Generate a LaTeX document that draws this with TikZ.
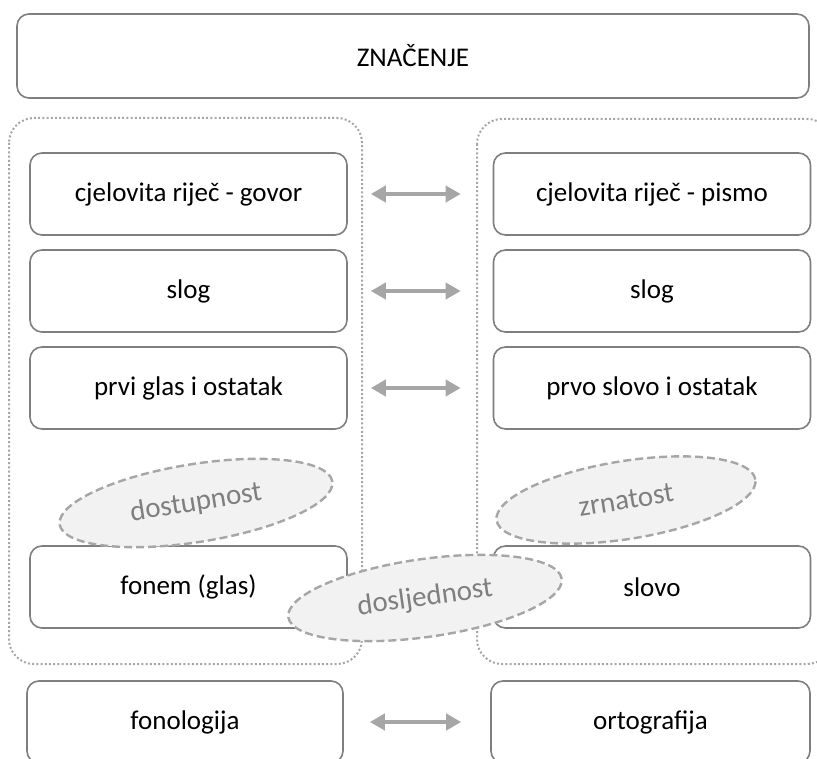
\documentclass[tikz,border=0pt]{standalone}
\usepackage{fontspec}
\setmainfont{Carlito}
\usetikzlibrary{positioning}
\usetikzlibrary{arrows.meta}
\usetikzlibrary{shapes.geometric}
\definecolor{boxgray}{HTML}{7F7F7F}
\definecolor{dotgray}{HTML}{A6A6A6}
\definecolor{ovalfill}{HTML}{F2F2F2}

\begin{document}
\begin{tikzpicture}[x=1pt,y=-1pt,
  razina/.style={draw=boxgray, line width=1.6pt, rounded corners=12pt, minimum width=317pt, minimum height=82pt, inner sep=0pt, font=\fontsize{27}{32}\selectfont},
  okvir/.style={draw=dotgray, line width=2pt, dash pattern=on 2pt off 2.2pt, rounded corners=25pt},
  ovalni/.style={ellipse, draw=dotgray, fill=ovalfill, line width=2.4pt, dash pattern=on 8pt off 4pt, text=boxgray, minimum width=276pt, minimum height=78pt, inner sep=0pt, font=\fontsize{29}{34}\selectfont},
  strelica/.style={draw=dotgray, line width=4.5pt, {Triangle[length=15pt,width=16pt]}-{Triangle[length=15pt,width=16pt]}}
]
\useasboundingbox (0,0) rectangle (817,759);
\clip (0,0) rectangle (817,759);

\node[razina, minimum width=792pt, minimum height=84pt] (znacenje) at (413,56) {ZNAČENJE};

% govor / pismo
\draw[okvir] (9,118) rectangle (362,664);
\draw[okvir] (477,119) rectangle (832,664);

\node[razina] (govor) at (188.5,194) {cjelovita riječ - govor};
\node[razina] (sloggovor) at (188.5,291) {slog};
\node[razina] (glas) at (188.5,388) {prvi glas i ostatak};
\node[razina] (fonem) at (188.5,587) {fonem (glas)};

\node[razina] (pismo) at (652,194) {cjelovita riječ - pismo};
\node[razina] (slogpismo) at (652,291) {slog};
\node[razina] (slovoost) at (652,388) {prvo slovo i ostatak};
\node[razina] (slovo) at (652,587) {slovo};

\node[razina, minimum width=316pt, minimum height=82pt] (fonologija) at (185,722) {fonologija};
\node[razina, minimum width=319pt, minimum height=82pt] (ortografija) at (650.5,722) {ortografija};

\draw[strelica, shorten <=23pt, shorten >=32pt] (govor.east) -- (pismo.west);
\draw[strelica, shorten <=23pt, shorten >=32pt] (sloggovor.east) -- (slogpismo.west);
\draw[strelica, shorten <=23pt, shorten >=32pt] (glas.east) -- (slovoost.west);
\draw[strelica, shorten <=26pt, shorten >=29pt] (fonologija.east) -- (ortografija.west);

% ovals
\node[ovalni, rotate=9] (dostupnost) at (196,503) {dostupnost};
\node[ovalni, rotate=9, minimum width=262pt] (zrnatost) at (626,500) {zrnatost};
\node[ovalni, rotate=8] (dosljednost) at (425,598) {dosljednost};

\end{tikzpicture}
\end{document}
